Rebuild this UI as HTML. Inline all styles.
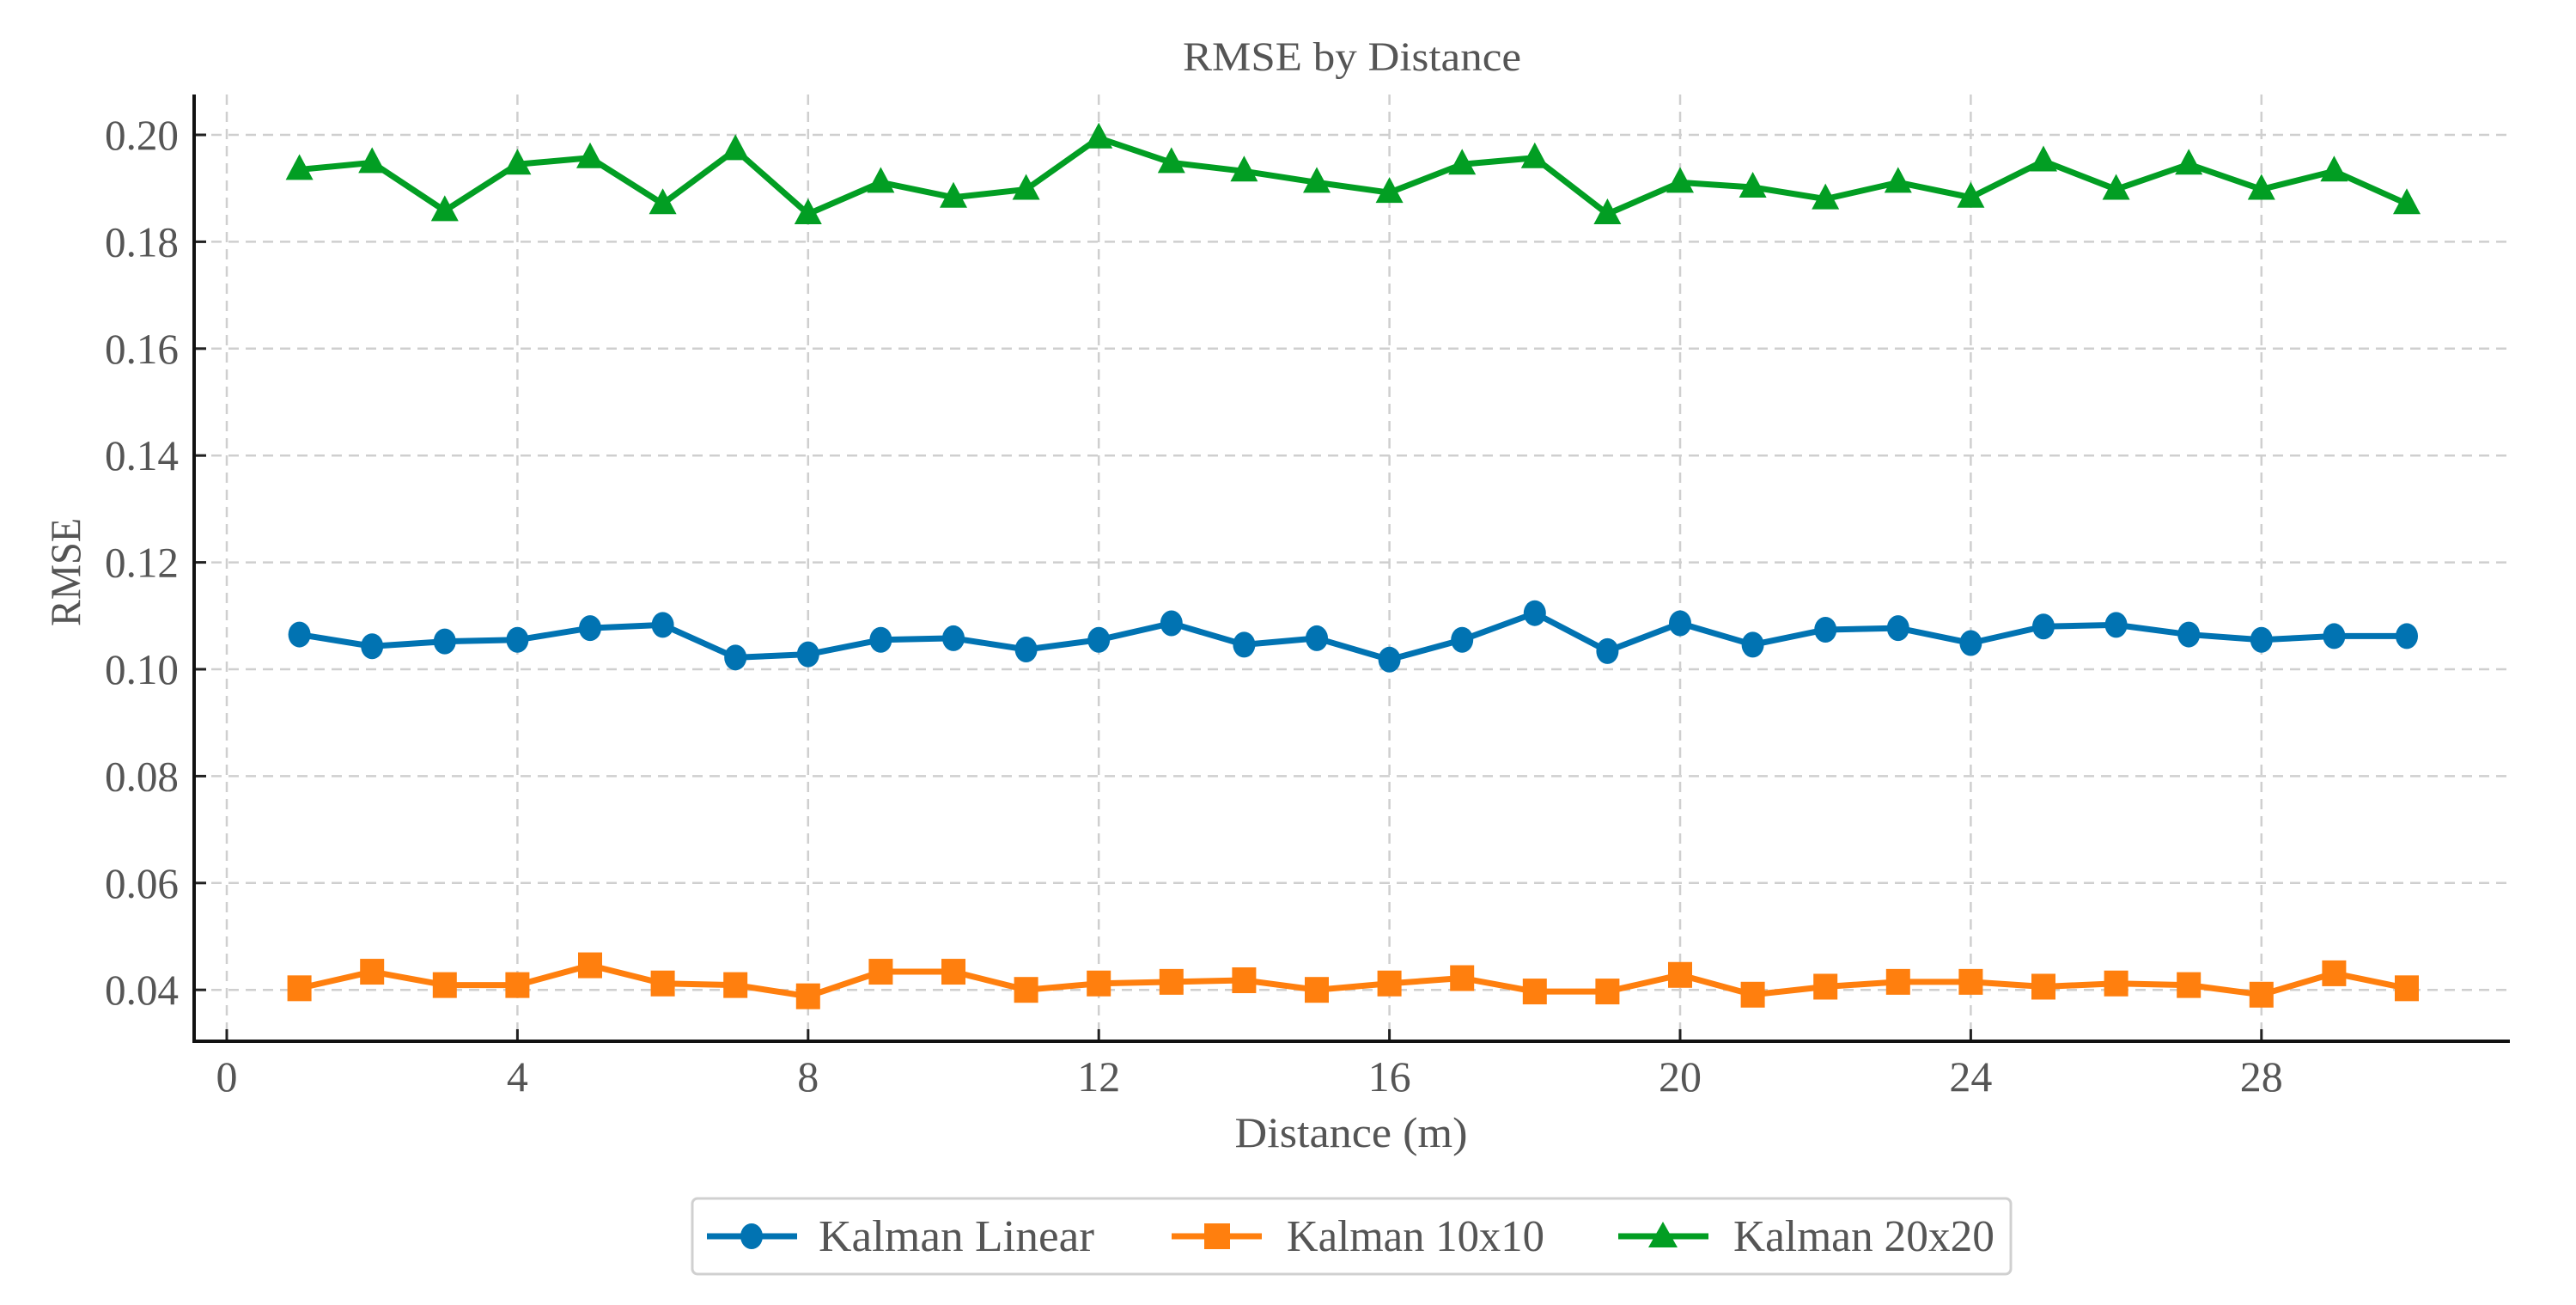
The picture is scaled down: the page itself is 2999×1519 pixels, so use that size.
<!DOCTYPE html>
<html><head><meta charset="utf-8"><style>
html,body{margin:0;padding:0;background:#fff;}
svg{display:block;font-family:"Liberation Serif",serif;}
</style></head><body>
<svg id="chart" width="2999" height="1519" viewBox="0 0 2999 1519" xmlns="http://www.w3.org/2000/svg">
<g id="grid"></g>
<g id="series"></g>
<g id="axes"></g>
<text x="1574" y="82" font-size="48" fill="#555" text-anchor="middle" textLength="394" lengthAdjust="spacingAndGlyphs">RMSE by Distance</text>
<text x="1573" y="1335" font-size="50" fill="#555" text-anchor="middle" textLength="271" lengthAdjust="spacingAndGlyphs">Distance (m)</text>
<text transform="translate(93,666) rotate(-90)" font-size="50" fill="#555" text-anchor="middle" textLength="126" lengthAdjust="spacingAndGlyphs">RMSE</text>
<g>
<rect x="806" y="1395" width="1535" height="88" rx="6" fill="#fff" stroke="#d0d0d0" stroke-width="3"/>
<g>
<line x1="823" y1="1439" x2="928" y2="1439" stroke="#0173b2" stroke-width="7"/>
<ellipse cx="875" cy="1439" rx="13" ry="15" fill="#0173b2"/>
<text x="953" y="1456" font-size="52" fill="#555" textLength="321" lengthAdjust="spacingAndGlyphs">Kalman Linear</text>
</g>
<g>
<line x1="1364" y1="1439" x2="1469" y2="1439" stroke="#ff7f0e" stroke-width="7"/>
<rect x="1402" y="1424" width="30" height="30" fill="#ff7f0e"/>
<text x="1498" y="1456" font-size="52" fill="#555" textLength="300" lengthAdjust="spacingAndGlyphs">Kalman 10x10</text>
</g>
<g>
<line x1="1884" y1="1439" x2="1989" y2="1439" stroke="#029e23" stroke-width="7"/>
<polygon points="1936,1422 1953,1452 1919,1452" fill="#029e23"/>
<text x="2018" y="1456" font-size="52" fill="#555" textLength="304" lengthAdjust="spacingAndGlyphs">Kalman 20x20</text>
</g>
</g>
</svg>
<script>
const distances = [1,2,3,4,5,6,7,8,9,10,11,12,13,14,15,16,17,18,19,20,21,22,23,24,25,26,27,28,29,30];
const kalmanLinear = [0.1065,0.1043,0.1052,0.1055,0.1077,0.1083,0.1022,0.1028,0.1055,0.1058,0.1037,0.1055,0.1086,0.1046,0.1058,0.1018,0.1055,0.1105,0.1034,0.1086,0.1046,0.1074,0.1077,0.1049,0.1080,0.1083,0.1065,0.1055,0.1062,0.1062];
const kalman10 = [0.0403,0.0434,0.0409,0.0409,0.0446,0.0412,0.0409,0.0388,0.0434,0.0434,0.0400,0.0412,0.0415,0.0418,0.0400,0.0412,0.0422,0.0397,0.0397,0.0428,0.0391,0.0406,0.0415,0.0415,0.0406,0.0412,0.0409,0.0391,0.0431,0.0403];
const kalman20 = [0.1935,0.1948,0.1858,0.1945,0.1957,0.1871,0.1972,0.1852,0.1911,0.1883,0.1898,0.1994,0.1948,0.1932,0.1911,0.1892,0.1945,0.1957,0.1852,0.1911,0.1902,0.1880,0.1911,0.1883,0.1951,0.1898,0.1945,0.1898,0.1932,0.1871];
const xTicks = [0,4,8,12,16,20,24,28];
const yTicks = [0.04,0.06,0.08,0.10,0.12,0.14,0.16,0.18,0.20];
const yTickLabels = ["0.04","0.06","0.08","0.10","0.12","0.14","0.16","0.18","0.20"];

const NS = "http://www.w3.org/2000/svg";
const L = 226, R = 2922, T = 110, B = 1212;
function sx(v){ return 264 + v * 84.6; }
function sy(v){ return 157 + (0.20 - v) / 0.02 * 124.4; }
function mk(tag, attrs, parent){
  const e = document.createElementNS(NS, tag);
  for (const k in attrs) e.setAttribute(k, attrs[k]);
  parent.appendChild(e);
  return e;
}
const grid = document.getElementById('grid');
const axes = document.getElementById('axes');
const series = document.getElementById('series');

xTicks.forEach(function(t){
  const g = mk('line', {x1:sx(t), x2:sx(t), y1:T, y2:B, stroke:'#cfcfcf', 'stroke-width':2.5, 'stroke-dasharray':'12,8'}, grid);
  
  
  const tk = mk('line', {x1:sx(t), x2:sx(t), y1:B-14, y2:B, stroke:'#222', 'stroke-width':3}, axes);
  
  
  const lb = mk('text', {x:sx(t), y:1270, 'font-size':50, fill:'#555', 'text-anchor':'middle'}, axes);
  lb.textContent = String(t);
  
  
});
yTicks.forEach(function(t, i){
  const g = mk('line', {x1:L, x2:R, y1:sy(t), y2:sy(t), stroke:'#cfcfcf', 'stroke-width':2.5, 'stroke-dasharray':'12,8'}, grid);
  
  
  const tk = mk('line', {x1:L, x2:L+14, y1:sy(t), y2:sy(t), stroke:'#222', 'stroke-width':3}, axes);
  
  
  const lb = mk('text', {x:208, y:sy(t)+17, 'font-size':50, fill:'#555', 'text-anchor':'end', textLength:86, lengthAdjust:'spacingAndGlyphs'}, axes);
  lb.textContent = yTickLabels[i];
  
  
});
const ax1 = mk('line', {x1:L, x2:L, y1:T, y2:B+2, stroke:'#111', 'stroke-width':4}, axes);


const ax2 = mk('line', {x1:L-2, x2:R, y1:B, y2:B, stroke:'#111', 'stroke-width':4}, axes);



function drawSeries(vals, color, shape, name){
  const g = mk('g', {}, series);
  
  
  const pts = vals.map(function(v, i){ return sx(distances[i]) + ',' + sy(v); }).join(' ');
  const pl = mk('polyline', {points:pts, fill:'none', stroke:color, 'stroke-width':7, 'stroke-linejoin':'round'}, g);
  
  
  vals.forEach(function(v, i){
    const x = sx(distances[i]), y = sy(v);
    let m;
    if (shape === 'circle') m = mk('ellipse', {cx:x, cy:y, rx:13, ry:15, fill:color}, g);
    else if (shape === 'square') m = mk('rect', {x:x-14, y:y-15, width:28, height:30, fill:color}, g);
    else m = mk('polygon', {points:(x)+','+(y-18)+' '+(x+16)+','+(y+12)+' '+(x-16)+','+(y+12), fill:color}, g);
    
    
  });
}
drawSeries(kalman20, '#029e23', 'triangle', 'kalman-20x20');
drawSeries(kalmanLinear, '#0173b2', 'circle', 'kalman-linear');
drawSeries(kalman10, '#ff7f0e', 'square', 'kalman-10x10');
</script>
</body></html>
